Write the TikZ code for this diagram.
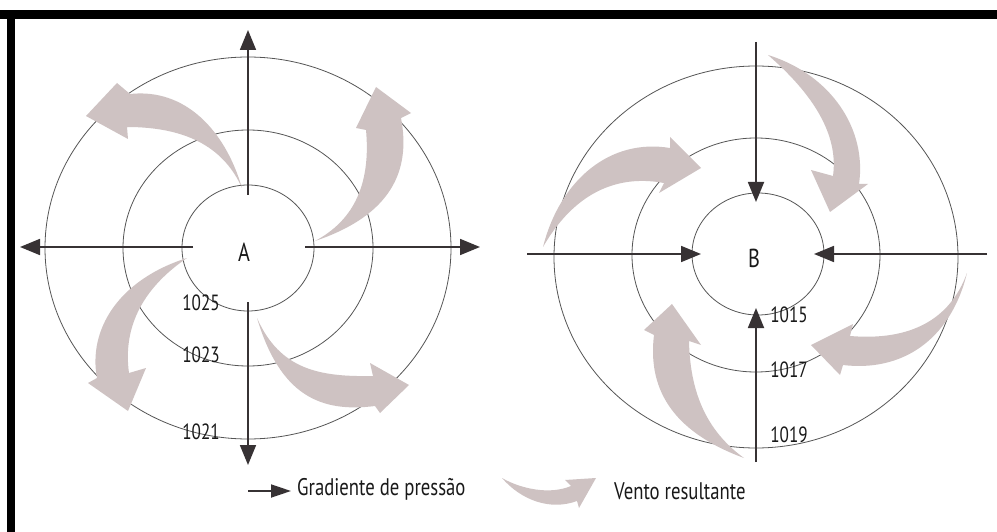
\documentclass[tikz,border=0pt]{standalone}
\usepackage{fontspec}
\setmainfont{PT Sans}[FakeStretch=0.78]
\usetikzlibrary{arrows.meta,shapes.geometric}
\definecolor{wind}{RGB}{206,194,194}
\definecolor{axiscol}{RGB}{55,50,52}
\definecolor{iso}{RGB}{85,85,85}
\begin{document}
\begin{tikzpicture}[x=1pt,y=-1pt,
  isobar/.style={draw=iso, line width=0.8pt, ellipse, inner sep=0pt},
  grad/.style={draw=axiscol, line width=1.8pt, -{Triangle[length=20pt,width=16pt]}},
  windarrow/.style={fill=wind, draw=none},
  lbl/.style={font=\fontsize{24}{24}\selectfont, text=black!90, inner sep=0pt},
  num/.style={font=\fontsize{22}{22}\selectfont, text=black!90, inner sep=0pt},
  centre/.style={font=\fontsize{26}{26}\selectfont, text=black!90, inner sep=0pt},
]
\useasboundingbox (0,0) rectangle (997,532);
\fill[white] (0,0) rectangle (997,532);
% frame
\fill[black] (0,10) rectangle (997,19);
\fill[black] (7,10) rectangle (15,532);

% ---------- isobars A ----------
\node[isobar, minimum width=132pt, minimum height=126pt] (Ain) at (248,248) {};
\node[isobar, minimum width=250pt, minimum height=236pt] (Amid) at (248,248) {};
\node[isobar, minimum width=406pt, minimum height=382pt] (Aout) at (248,248) {};
% ---------- isobars B ----------
\node[isobar, minimum width=132pt, minimum height=122pt] (Bin) at (758,254) {};
\node[isobar, minimum width=248pt, minimum height=234pt] (Bmid) at (756,255) {};
\node[isobar, minimum width=404pt, minimum height=382pt] (Bout) at (756,257) {};

% ---------- wind arrows A ----------
\fill[windarrow] (242,188) .. controls (225,130) and (185,88) .. (130,94) -- (117,83) -- (86,116) -- (128,139) -- (127,127) .. controls (190,127) and (225,150) .. (242,188) -- cycle;
\fill[windarrow] (315,241) .. controls (345,225) and (372,195) .. (366,130) -- (356,128) -- (376,87) -- (411,113) -- (401,118) .. controls (411,170) and (392,215) .. (315,241) -- cycle;
\fill[windarrow] (187,258) .. controls (118,280) and (88,330) .. (97,378) -- (88,383) -- (128,411) -- (146,368) -- (129,373) .. controls (123,330) and (140,290) .. (187,258) -- cycle;
\fill[windarrow] (257,318) .. controls (280,370) and (320,377) .. (373,376) -- (370,363) -- (409,385) -- (380,413) -- (375,406) .. controls (320,413) and (280,395) .. (257,318) -- cycle;

% ---------- wind arrows B ----------
\fill[windarrow] (543,247) .. controls (560,180) and (610,138) .. (670,148) -- (670,137) -- (701,168) -- (659,193) -- (664,183) .. controls (610,173) and (570,200) .. (543,247) -- cycle;
\fill[windarrow] (768,55) .. controls (832,75) and (867,130) .. (859,184) -- (868,184) -- (830,212) -- (811,170) -- (833,176) .. controls (838,140) and (820,100) .. (768,55) -- cycle;
\fill[windarrow] (967,273) .. controls (950,320) and (910,341) .. (850,336) -- (853,324) -- (811,345) -- (840,375) -- (843,365) .. controls (900,372) and (950,342) .. (967,273) -- cycle;
\fill[windarrow] (744,458) .. controls (668,430) and (648,385) .. (654,335) -- (644,330) -- (672,304) -- (701,345) -- (689,341) .. controls (690,390) and (705,430) .. (744,458) -- cycle;

% ---------- pressure gradient arrows A ----------
\coordinate (Au0) at (248,195); \coordinate (Au1) at (248,30);
\coordinate (Ad0) at (248,302); \coordinate (Ad1) at (248,465);
\coordinate (Al0) at (193,247); \coordinate (Al1) at (20,247);
\coordinate (Ar0) at (305,247); \coordinate (Ar1) at (480,247);
\draw[grad] (Au0) -- (Au1);
\draw[grad] (Ad0) -- (Ad1);
\draw[grad] (Al0) -- (Al1);
\draw[grad] (Ar0) -- (Ar1);
% ---------- pressure gradient arrows B ----------
\coordinate (Bu0) at (756,42);  \coordinate (Bu1) at (756,202);
\coordinate (Bd0) at (756,462); \coordinate (Bd1) at (756,308);
\coordinate (Bl0) at (527,254); \coordinate (Bl1) at (701,254);
\coordinate (Br0) at (987,254); \coordinate (Br1) at (814,254);
\draw[grad] (Bu0) -- (Bu1);
\draw[grad] (Bd0) -- (Bd1);
\draw[grad] (Bl0) -- (Bl1);
\draw[grad] (Br0) -- (Br1);

% ---------- labels ----------
\node[centre] (la) at (244,252) {A};
\node[centre] (lb) at (754,258) {B};
\node[num] (p1025) at (201,303) {1025};
\node[num] (p1023) at (201,355) {1023};
\node[num] (p1021) at (201,432) {1021};
\node[num] (p1015) at (789,315) {1015};
\node[num] (p1017) at (789,370) {1017};
\node[num] (p1019) at (789,435) {1019};

% ---------- legend ----------
\coordinate (Lg0) at (248,491); \coordinate (Lg1) at (291,491);
\draw[draw=axiscol, line width=1.8pt, -{Triangle[length=20pt,width=13pt]}] (Lg0) -- (Lg1);
\node[lbl, anchor=west] (lgrad) at (297,489) {Gradiente de pressão};
\fill[windarrow] (502,478) .. controls (521,489) and (550,495) .. (571,486) -- (565,480) -- (596,478) -- (579,508) -- (577,501) .. controls (550,511) and (521,500) .. (502,478) -- cycle;
\node[lbl, anchor=west] (lwind) at (614,491) {Vento resultante};
\end{tikzpicture}
\end{document}
